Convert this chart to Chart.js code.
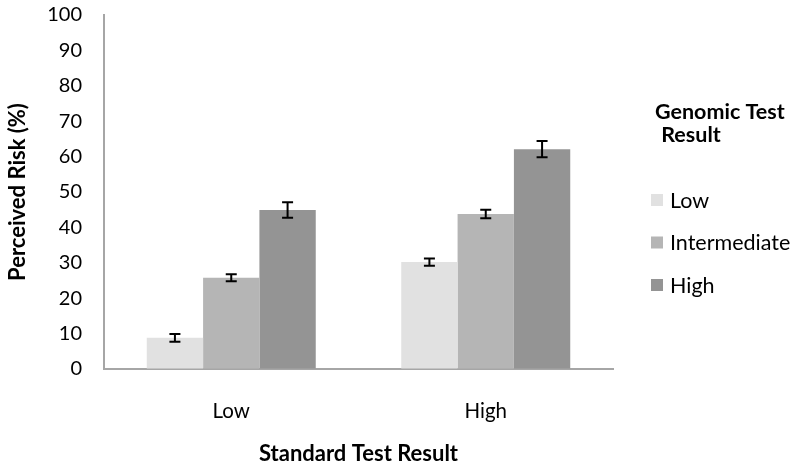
<!DOCTYPE html>
<html lang="en">
<head>
    <meta charset="UTF-8">
    <title>Perceived Risk by Test Result</title>
    <script src="https://cdn.jsdelivr.net/npm/chart.js"></script>
    <style>
        html, body {
            margin: 0;
            padding: 0;
            background: #fff;
        }
    </style>
</head>
<body>
    <canvas id="riskChart" width="800" height="468"></canvas>

    <script>
        // Data
        const categories = ['Low', 'High'];
        const seriesNames = ['Low', 'Intermediate', 'High'];
        const lowValues = [8.8, 30.2];
        const intermediateValues = [25.8, 43.8];
        const highValues = [44.9, 62.1];
        const lowErrors = [1.1, 1.0];
        const intermediateErrors = [1.0, 1.2];
        const highErrors = [2.2, 2.3];
        const yMin = 0;
        const yMax = 100;
        const yStep = 10;

        const xTitle = 'Standard Test Result';
        const yTitle = 'Perceived Risk (%)';
        const legendTitle = ['Genomic Test', ' Result'];

        const colors = ['#e1e1e1', '#b5b5b5', '#949494'];
        const fontFamily = 'Lato, "Open Sans", sans-serif';

        Chart.defaults.font.family = fontFamily;
        Chart.defaults.color = '#000';

        // Error bars drawn on top of the bars, using the y scale
        const errorBars = {
            id: 'errorBars',
            afterDatasetsDraw(chart) {
                const ctx = chart.ctx;
                const yScale = chart.scales.y;
                ctx.save();
                ctx.strokeStyle = '#000';
                ctx.lineWidth = 2;
                chart.data.datasets.forEach((ds, i) => {
                    const meta = chart.getDatasetMeta(i);
                    meta.data.forEach((bar, j) => {
                        const v = ds.data[j];
                        const e = ds.errors[j];
                        const top = yScale.getPixelForValue(v + e);
                        const bottom = yScale.getPixelForValue(v - e);
                        ctx.beginPath();
                        ctx.moveTo(bar.x, top);
                        ctx.lineTo(bar.x, bottom);
                        ctx.moveTo(bar.x - 5.5, top);
                        ctx.lineTo(bar.x + 5.5, top);
                        ctx.moveTo(bar.x - 5.5, bottom);
                        ctx.lineTo(bar.x + 5.5, bottom);
                        ctx.stroke();
                    });
                });
                ctx.restore();
            }
        };

        // Legend on the right, laid out like the original
        const sideLegend = {
            id: 'sideLegend',
            afterDraw(chart) {
                const ctx = chart.ctx;
                const x0 = chart.chartArea.right;
                ctx.save();
                ctx.textAlign = 'left';
                ctx.textBaseline = 'alphabetic';
                ctx.fillStyle = '#000';
                ctx.font = 'bold 21.5px ' + fontFamily;
                ctx.fillText(legendTitle[0], x0 + 42, 119);
                ctx.fillText(legendTitle[1], x0 + 43, 142);
                ctx.font = '21.5px ' + fontFamily;
                chart.data.datasets.forEach((ds, i) => {
                    const boxTop = 194 + i * 42.5;
                    ctx.fillStyle = ds.backgroundColor;
                    ctx.fillRect(x0 + 38, boxTop, 12, 12);
                    ctx.fillStyle = '#000';
                    ctx.fillText(ds.label, x0 + 57, boxTop + 13.5);
                });
                ctx.restore();
            }
        };

        const ctx = document.getElementById('riskChart').getContext('2d');

        new Chart(ctx, {
            type: 'bar',
            data: {
                labels: categories,
                datasets: [
                    { label: seriesNames[0], data: lowValues, errors: lowErrors, backgroundColor: colors[0] },
                    { label: seriesNames[1], data: intermediateValues, errors: intermediateErrors, backgroundColor: colors[1] },
                    { label: seriesNames[2], data: highValues, errors: highErrors, backgroundColor: colors[2] }
                ]
            },
            options: {
                responsive: false,
                animation: false,
                layout: {
                    padding: { top: 15, right: 187, bottom: 0, left: 0 }
                },
                datasets: {
                    bar: {
                        categoryPercentage: 0.664,
                        barPercentage: 1.0,
                        borderWidth: 0
                    }
                },
                plugins: {
                    legend: { display: false },
                    tooltip: { enabled: false }
                },
                scales: {
                    x: {
                        grid: { display: false, drawTicks: false },
                        border: { color: '#a6a6a6', width: 2 },
                        ticks: { padding: 30, font: { size: 20.5 } },
                        title: {
                            display: true,
                            text: xTitle,
                            font: { size: 22, weight: 'bold' },
                            padding: { top: 0, bottom: 1 }
                        },
                        afterFit(scale) { scale.height = 99; }
                    },
                    y: {
                        min: yMin,
                        max: yMax,
                        // invisible tick marks give the gap between labels and axis
                        grid: {
                            display: true,
                            drawOnChartArea: false,
                            drawTicks: true,
                            tickLength: 19,
                            tickColor: 'rgba(0,0,0,0)'
                        },
                        border: { color: '#a6a6a6', width: 2 },
                        ticks: { stepSize: yStep, padding: 3, font: { size: 20 } },
                        title: {
                            display: true,
                            text: yTitle,
                            font: { size: 22, weight: 'bold' },
                            padding: { top: 5, bottom: 0 }
                        },
                        afterFit(scale) { scale.width = 104; }
                    }
                }
            },
            plugins: [errorBars, sideLegend]
        });
    </script>
</body>
</html>
